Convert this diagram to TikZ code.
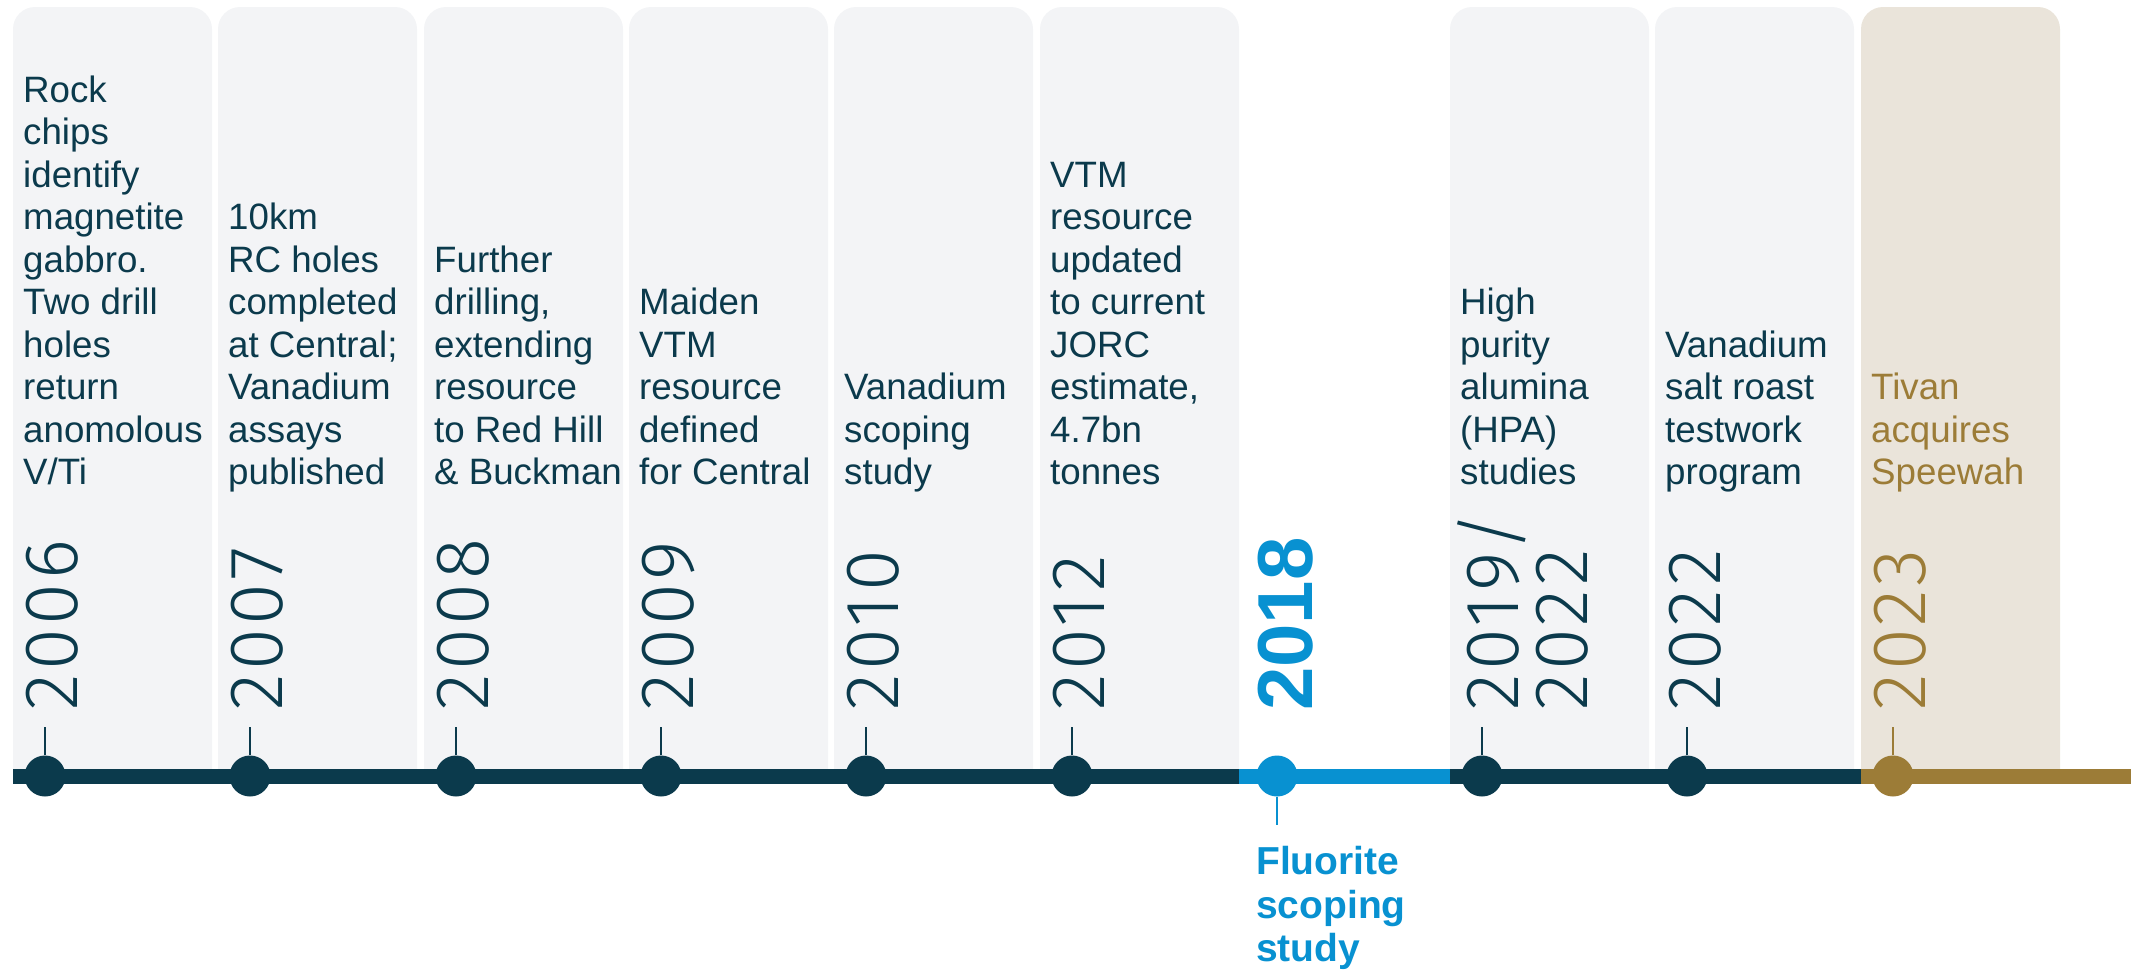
\documentclass[tikz,border=0pt]{standalone}
\usepackage{fontspec}
\setmainfont{Liberation Sans}
\newfontfamily\yearfont{Fira Sans Light}[LetterSpace=5]
\definecolor{navy}{HTML}{0B3A4C}
\definecolor{fluorblue}{HTML}{0891D1}
\definecolor{ochre}{HTML}{9C7C37}
\definecolor{panelgray}{HTML}{F3F4F6}
\definecolor{panelsand}{HTML}{EAE4DA}
\begin{document}
\begin{tikzpicture}[x=1pt, y=-1pt,
  desc/.style={anchor=south west, inner sep=0pt, text depth=0pt, align=left, text=navy, font=\fontsize{36.7pt}{42.5pt}\selectfont},
  year/.style={anchor=south west, inner sep=0pt, text depth=0pt, align=left, rotate=90, text=navy, font=\yearfont\fontsize{76pt}{69pt}\selectfont},
  milestone/.style={circle, fill=navy, minimum size=41pt, inner sep=0pt},
  stem/.style={draw=navy, line width=1.6pt},
  track/.style={line width=15pt}]

\useasboundingbox (0,0) rectangle (2131,970);

\fill[panelgray] (13,769) -- (13,29) arc[start angle=180, end angle=90, radius=22pt] -- (190,7) arc[start angle=90, end angle=0, radius=22pt] -- (212,769) -- cycle;
\fill[panelgray] (218,769) -- (218,29) arc[start angle=180, end angle=90, radius=22pt] -- (395,7) arc[start angle=90, end angle=0, radius=22pt] -- (417,769) -- cycle;
\fill[panelgray] (424,769) -- (424,29) arc[start angle=180, end angle=90, radius=22pt] -- (601,7) arc[start angle=90, end angle=0, radius=22pt] -- (623,769) -- cycle;
\fill[panelgray] (629,769) -- (629,29) arc[start angle=180, end angle=90, radius=22pt] -- (806,7) arc[start angle=90, end angle=0, radius=22pt] -- (828,769) -- cycle;
\fill[panelgray] (834,769) -- (834,29) arc[start angle=180, end angle=90, radius=22pt] -- (1011,7) arc[start angle=90, end angle=0, radius=22pt] -- (1033,769) -- cycle;
\fill[panelgray] (1040,769) -- (1040,29) arc[start angle=180, end angle=90, radius=22pt] -- (1217,7) arc[start angle=90, end angle=0, radius=22pt] -- (1239,769) -- cycle;
\fill[panelgray] (1450,769) -- (1450,29) arc[start angle=180, end angle=90, radius=22pt] -- (1627,7) arc[start angle=90, end angle=0, radius=22pt] -- (1649,769) -- cycle;
\fill[panelgray] (1655,769) -- (1655,29) arc[start angle=180, end angle=90, radius=22pt] -- (1832,7) arc[start angle=90, end angle=0, radius=22pt] -- (1854,769) -- cycle;
\fill[panelsand] (1861,769) -- (1861,29) arc[start angle=180, end angle=90, radius=22pt] -- (2038,7) arc[start angle=90, end angle=0, radius=22pt] -- (2060,769) -- cycle;

\coordinate (start) at (13,776);
\coordinate (blueon) at (1239,776);
\coordinate (blueoff) at (1450,776);
\coordinate (goldon) at (1861,776);
\coordinate (finish) at (2131,776);

\draw[track, navy] (start) -- (blueon);
\draw[track, fluorblue] (blueon) -- (blueoff);
\draw[track, navy] (blueoff) -- (goldon);
\draw[track, ochre] (goldon) -- (finish);

\node[milestone] (d2006) at (45,776) {};
\node[milestone] (d2007) at (250,776) {};
\node[milestone] (d2008) at (456,776) {};
\node[milestone] (d2009) at (661,776) {};
\node[milestone] (d2010) at (866,776) {};
\node[milestone] (d2012) at (1072,776) {};
\node[milestone, fill=fluorblue] (d2018) at (1277,776) {};
\node[milestone] (d2019) at (1482,776) {};
\node[milestone] (d2022) at (1687,776) {};
\node[milestone, fill=ochre] (d2023) at (1893,776) {};

\coordinate (t2006) at (45,727);
\coordinate (t2007) at (250,727);
\coordinate (t2008) at (456,727);
\coordinate (t2009) at (661,727);
\coordinate (t2010) at (866,727);
\coordinate (t2012) at (1072,727);
\coordinate (t2018) at (1277,825);
\coordinate (t2019) at (1482,727);
\coordinate (t2022) at (1687,727);
\coordinate (t2023) at (1893,727);

\draw[stem] (d2006) -- (t2006);
\draw[stem] (d2007) -- (t2007);
\draw[stem] (d2008) -- (t2008);
\draw[stem] (d2009) -- (t2009);
\draw[stem] (d2010) -- (t2010);
\draw[stem] (d2012) -- (t2012);
\draw[stem, draw=fluorblue] (d2018) -- (t2018);
\draw[stem] (d2019) -- (t2019);
\draw[stem] (d2022) -- (t2022);
\draw[stem, draw=ochre] (d2023) -- (t2023);

\node[year] (y2006) at (78,711) {2006};
\node[year] (y2007) at (283,711) {2007};
\node[year] (y2008) at (489,711) {2008};
\node[year] (y2009) at (694,711) {2009};
\node[year] (y2010) at (899,711) {2010};
\node[year] (y2012) at (1105,711) {2012};
\node[year, text=fluorblue, font=\fontsize{78pt}{69pt}\selectfont\bfseries] (y2018) at (1313,711) {2018};
\node[year] (y2019) at (1588,711) {2019/\\2022};
\node[year] (y2022) at (1721,711) {2022};
\node[year, text=ochre] (y2023) at (1926,711) {2023};

\node[desc] (e2006) at (23,485) {Rock\\chips\\identify\\magnetite\\gabbro.\\Two drill\\holes\\return\\anomolous\\V/Ti};
\node[desc] (e2007) at (228,485) {10km\\RC holes\\completed\\at Central;\\Vanadium\\assays\\published};
\node[desc] (e2008) at (434,485) {Further\\drilling,\\extending\\resource\\to Red Hill\\\& Buckman};
\node[desc] (e2009) at (639,485) {Maiden\\VTM\\resource\\defined\\for Central};
\node[desc] (e2010) at (844,485) {Vanadium\\scoping\\study};
\node[desc] (e2012) at (1050,485) {VTM\\resource\\updated\\to current\\JORC\\estimate,\\4.7bn\\tonnes};
\node[desc, text=fluorblue, font=\fontsize{39pt}{43.5pt}\selectfont\bfseries] (e2018) at (1256,962) {Fluorite\\scoping\\study};
\node[desc] (e2019) at (1460,485) {High\\purity\\alumina\\(HPA)\\studies};
\node[desc] (e2022) at (1665,485) {Vanadium\\salt roast\\testwork\\program};
\node[desc, text=ochre] (e2023) at (1871,485) {Tivan\\acquires\\Speewah};

\end{tikzpicture}
\end{document}
